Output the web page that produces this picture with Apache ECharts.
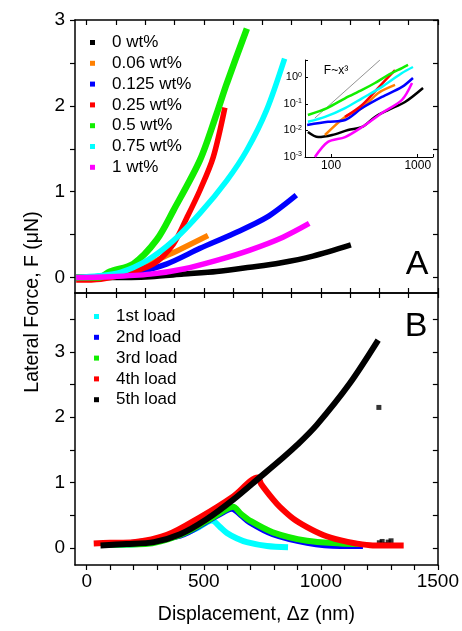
<!DOCTYPE html>
<html>
<head>
<meta charset="utf-8">
<title>Lateral force vs displacement</title>
<script src="https://cdn.jsdelivr.net/npm/echarts@6/dist/echarts.min.js"></script>
<style>
  html, body { margin: 0; padding: 0; background: #fff; }
  #main { width: 462px; height: 631px; }
</style>
</head>
<body>
<div id="main"></div>
<script>
// ---- panel A: [displacement (nm), lateral force (uN)] per concentration
const namesA = ['0 wt%', '0.06 wt%', '0.125 wt%', '0.25 wt%', '0.5 wt%', '0.75 wt%', '1 wt%']
const wt0 = [[-45, 0], [100, 0], [272, 0.01], [413, 0.04], [555, 0.07], [697, 0.12], [825, 0.17], [966, 0.25], [1128, 0.38]]
const wt006 = [[-45, 0], [100, 0.02], [200, 0.07], [314, 0.22], [400, 0.33], [518, 0.49]]
const wt0125 = [[-45, 0], [100, 0.01], [200, 0.05], [343, 0.16], [484, 0.34], [626, 0.51], [768, 0.70], [895, 0.96]]
const wt025 = [[-45, -0.03], [60, -0.02], [150, 0.03], [285, 0.16], [370, 0.39], [428, 0.70], [484, 1.02], [540, 1.40], [590, 1.98]]
const wt05 = [[-45, 0], [50, 0], [100, 0.07], [199, 0.16], [299, 0.44], [370, 0.78], [484, 1.37], [555, 1.91], [598, 2.26], [684, 2.9]]
const wt075 = [[-45, 0], [50, 0.02], [144, 0.06], [258, 0.2], [370, 0.43], [484, 0.75], [598, 1.13], [683, 1.48], [768, 1.95], [845, 2.55]]
const wt1 = [[-45, 0], [100, 0.01], [272, 0.04], [413, 0.10], [555, 0.20], [697, 0.32], [838, 0.47], [950, 0.63]]

// ---- inset (log-log) of panel A
const logWt0 = [[54, 0.0087], [71, 0.0056], [103, 0.0067], [157, 0.0103], [228, 0.0134], [321, 0.032], [454, 0.058], [713, 0.116], [1151, 0.39]]
const logWt006 = [[85, 0.0067], [145, 0.032], [228, 0.069], [348, 0.25], [547, 0.51]]
const logWt0125 = [[53, 0.016], [92, 0.021], [145, 0.0245], [228, 0.069], [386, 0.18], [658, 0.43], [881, 0.93]]
const logWt025 = [[145, 0.032], [228, 0.09], [348, 0.39], [547, 1.85]]
const logWt05 = [[54, 0.038], [90, 0.069], [145, 0.16], [228, 0.33], [321, 0.60], [454, 1.20], [658, 2.20], [773, 2.86]]
const logWt075 = [[54, 0.021], [85, 0.032], [145, 0.069], [228, 0.16], [386, 0.43], [658, 1.43], [881, 2.40]]
const logWt1 = [[65, 0.001], [92, 0.0037], [145, 0.0056], [228, 0.0134], [386, 0.045], [658, 0.14], [859, 0.60]]
const cubicGuide = [[65, 0.029], [366, 4.4]]

// ---- panel B: loading / unloading cycles
const namesB = ['1st load', '2nd load', '3rd load', '4th load', '5th load']
const load1 = [[100, 0.05], [250, 0.07], [400, 0.2], [470, 0.3], [535, 0.42], [570, 0.32], [599, 0.23], [640, 0.15], [684, 0.09], [770, 0.03], [860, 0.01]]
const load2 = [[100, 0.05], [400, 0.19], [520, 0.42], [600, 0.58], [620, 0.6], [660, 0.5], [697, 0.39], [795, 0.21], [941, 0.08], [1082, 0.03], [1180, 0.03]]
const load3 = [[90, 0.05], [250, 0.06], [400, 0.2], [520, 0.43], [600, 0.6], [625, 0.63], [660, 0.52], [697, 0.42], [795, 0.24], [941, 0.11], [1082, 0.07], [1167, 0.06]]
const load4 = [[30, 0.07], [100, 0.08], [200, 0.09], [343, 0.2], [484, 0.47], [626, 0.79], [731, 1.08], [745, 0.98], [797, 0.74], [825, 0.63], [882, 0.45], [941, 0.32], [1010, 0.2], [1082, 0.12], [1150, 0.07], [1222, 0.04], [1354, 0.04]]
const load5 = [[59, 0.04], [170, 0.06], [287, 0.09], [399, 0.21], [512, 0.44], [626, 0.74], [739, 1.08], [838, 1.38], [900, 1.58], [982, 1.88], [1124, 2.52], [1245, 3.18]]
const load5Stray = [[1248, 2.15], [1250, 0.08], [1262, 0.1], [1275, 0.05], [1288, 0.09], [1300, 0.11]]

// ---- ticks
const ticksA = [0, 0.5, 1, 1.5, 2, 2.5, 3]
const labelsA = [0, 1, 2, 3]
const ticksB = [0, 0.5, 1, 1.5, 2, 2.5, 3, 3.5]
const labelsB = [0, 1, 2, 3]
const ticksX = [0, 100, 200, 300, 400, 500, 600, 700, 800, 900, 1000, 1100, 1200, 1300, 1400, 1500]
const ticksXMid = [0, 125, 250, 375, 500, 625, 750, 875, 1000, 1125, 1250, 1375, 1500]
const labelsX = [0, 500, 1000, 1500]

const colorsA = ['#000000', '#ff8000', '#0000ff', '#ff0000', '#11ee00', '#00ffff', '#ff00ff']
const colorsB = ['#00ffff', '#0000ff', '#11ee00', '#ff0000', '#000000']
const FONT = '"Liberation Sans", Arial, sans-serif'

const chart = echarts.init(document.getElementById('main'))

function frameAxis(gridIndex, position, min, max, ticks, inside) {
  return {
    type: 'value',
    gridIndex: gridIndex,
    position: position,
    min: min,
    max: max,
    splitLine: { show: false },
    axisLine: { show: true, onZero: false, lineStyle: { color: '#000', width: 1.5 } },
    axisTick: { show: true, inside: inside, length: 5, customValues: ticks, lineStyle: { color: '#000', width: 1.2 } },
    axisLabel: { show: false }
  }
}

function withLabels(axis, labels, margin) {
  axis.axisLabel = {
    show: true, customValues: labels, margin: margin, fontSize: 19, color: '#000', fontFamily: FONT,
    formatter: v => String(v)
  }
  return axis
}

const isDecade = v => Math.abs(Math.log10(v) - Math.round(Math.log10(v))) < 1e-6

const xAxes = [
  frameAxis(0, 'bottom', -50, 1500, ticksXMid, true),
  frameAxis(0, 'top', -50, 1500, ticksXMid, true),
  withLabels(frameAxis(1, 'bottom', -50, 1500, ticksX, false), labelsX, 7),
  frameAxis(1, 'top', -50, 1500, ticksXMid, true),
  {
    type: 'log', gridIndex: 2, min: 50, max: 1500,
    splitLine: { show: false },
    axisLine: { show: true, onZero: false, lineStyle: { color: '#000', width: 1 } },
    axisTick: { show: true, inside: true, length: 3, lineStyle: { color: '#000' } },
    axisLabel: {
      margin: 3, fontSize: 12, color: '#000', fontFamily: FONT,
      formatter: v => (isDecade(v) ? String(Math.round(v)) : '')
    }
  }
]
xAxes[2].name = 'Displacement, Δz (nm)'
xAxes[2].nameLocation = 'middle'
xAxes[2].nameGap = 40
xAxes[2].nameTextStyle = { fontSize: 19.5, color: '#000', fontFamily: FONT }

const yAxes = [
  withLabels(frameAxis(0, 'left', -0.18, 3, ticksA, false), labelsA, 10),
  frameAxis(0, 'right', -0.18, 3, ticksA, true),
  withLabels(frameAxis(1, 'left', -0.26, 3.9, ticksB, false), labelsB, 10),
  frameAxis(1, 'right', -0.26, 3.9, ticksB, true),
  {
    type: 'log', gridIndex: 2, min: 0.001, max: 4.4,
    splitLine: { show: false },
    axisLine: { show: true, onZero: false, lineStyle: { color: '#000', width: 1 } },
    axisTick: { show: true, inside: true, length: 3, lineStyle: { color: '#000' } },
    axisLabel: {
      margin: 3, fontSize: 11, color: '#000', fontFamily: FONT, lineHeight: 12,
      formatter: v => (isDecade(v) ? '10{s|' + Math.round(Math.log10(v)) + '}' : ''),
      rich: { s: { fontSize: 7, lineHeight: 7, verticalAlign: 'top', fontFamily: FONT, color: '#000' } }
    }
  }
]

function curve(name, data, color, xi, yi, width) {
  return {
    name: name, type: 'line', data: data, xAxisIndex: xi, yAxisIndex: yi,
    color: color, symbol: 'none', smooth: 0.3,
    lineStyle: { width: width, color: color }
  }
}

const seriesA = [wt0, wt006, wt0125, wt025, wt05, wt075, wt1]
const seriesInset = [logWt0, logWt006, logWt0125, logWt025, logWt05, logWt075, logWt1]
const seriesB = [load1, load2, load3, load4, load5]

const series = []
seriesA.forEach((d, i) => series.push(curve(namesA[i], d, colorsA[i], 0, 0, i === 4 ? 6.5 : 5.5)))
seriesB.forEach((d, i) => series.push(curve(namesB[i], d, colorsB[i], 2, 2, 6)))
series.push({
  name: '5th load', type: 'scatter', data: load5Stray, xAxisIndex: 2, yAxisIndex: 2,
  symbol: 'rect', symbolSize: 5, itemStyle: { color: '#000' }
})
series.push({
  type: 'line', data: cubicGuide, xAxisIndex: 4, yAxisIndex: 4, symbol: 'none',
  lineStyle: { width: 0.8, color: '#777' }
})
seriesInset.forEach((d, i) => series.push(curve(namesA[i], d, colorsA[i], 4, 4, 2.5)))

const legendText = { fontSize: 17, color: '#000', fontFamily: FONT, lineHeight: 17, padding: [0, 0, 0, 12] }

const option = {
  animation: false,
  backgroundColor: '#fff',
  grid: [
    { left: 75, top: 20, width: 363, height: 273 },
    { left: 75, top: 293, width: 363, height: 272 },
    { left: 305, top: 60, width: 128, height: 97 }
  ],
  legend: [
    {
      data: namesA, orient: 'vertical', left: 85, top: 29, icon: 'rect',
      itemWidth: 5, itemHeight: 5, itemGap: 3.8, selectedMode: false, textStyle: legendText
    },
    {
      data: namesB, orient: 'vertical', left: 89, top: 303, icon: 'rect',
      itemWidth: 5, itemHeight: 5, itemGap: 3.8, selectedMode: false, textStyle: legendText
    }
  ],
  xAxis: xAxes,
  yAxis: yAxes,
  series: series,
  graphic: [
    {
      type: 'text', x: 33, y: 302, rotation: Math.PI / 2,
      style: { text: 'Lateral Force, F (μN)', font: '19.5px ' + FONT, fill: '#000', align: 'center', verticalAlign: 'middle' }
    },
    { type: 'text', x: 417, y: 265, style: { text: 'A', font: '34px ' + FONT, fill: '#000', align: 'center', verticalAlign: 'middle' } },
    { type: 'text', x: 416, y: 327, style: { text: 'B', font: '34px ' + FONT, fill: '#000', align: 'center', verticalAlign: 'middle' } },
    { type: 'text', x: 336, y: 71, style: { text: 'F~x³', font: '12px ' + FONT, fill: '#000', align: 'center', verticalAlign: 'middle' } }
  ]
}

chart.setOption(option)
</script>
</body>
</html>
